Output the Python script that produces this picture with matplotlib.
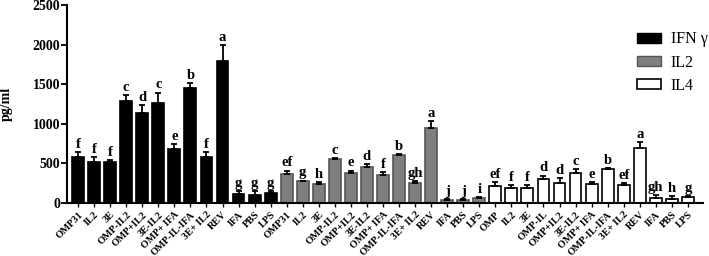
import matplotlib
matplotlib.use("Agg")
import matplotlib.pyplot as plt
import numpy as np
from matplotlib.patches import Patch

plt.rcParams['font.family'] = ['Liberation Serif', 'DejaVu Serif']

# treatment groups (same order in each cytokine block)
labels_ifn = ['OMP31', 'IL2', '3E', 'OMP-IL2', 'OMP+IL2', '3E-IL2', 'OMP+ IFA',
              'OMP-IL-IFA', '3E+ IL2', 'REV', 'IFA', 'PBS', 'LPS']
labels_il2 = ['OMP31', 'IL2', '3E', 'OMP-IL2', 'OMP+IL2', '3E-IL2', 'OMP+ IFA',
              'OMP-IL-IFA', '3E+ IL2', 'REV', 'IFA', 'PBS', 'LPS']
labels_il4 = ['OMP', 'IL2', '3E', 'OMP-IL', 'OMP+IL2', '3E-IL2', 'OMP+ IFA',
              'OMP-IL-IFA', '3E+ IL2', 'REV', 'IFA', 'PBS', 'LPS']

# mean values (pg/ml)
ifn = [587, 520, 512, 1283, 1137, 1262, 679, 1450, 575, 1796, 117, 96, 125]
il2 = [368, 272, 243, 556, 380, 451, 360, 606, 259, 953, 42, 38, 63]
il4 = [209, 192, 188, 297, 251, 380, 242, 431, 230, 694, 63, 54, 75]

# upper error (SD)
ifn_err = [53, 55, 33, 84, 105, 134, 63, 62, 71, 204, 29, 50, 21]
il2_err = [42, 12, 20, 13, 30, 42, 29, 13, 17, 84, 12, 16, 16]
il4_err = [54, 38, 34, 50, 67, 51, 21, 12, 25, 71, 33, 34, 9]

# significance letters
let_ifn = ['f', 'f', 'f', 'c', 'd', 'c', 'e', 'b', 'f', 'a', 'g', 'g', 'g']
let_il2 = ['ef', 'g', 'h', 'c', 'e', 'd', 'f', 'b', 'gh', 'a', 'j', 'j', 'i']
let_il4 = ['ef', 'f', 'f', 'd', 'd', 'c', 'e', 'b', 'ef', 'a', 'gh', 'h', 'g']

fig = plt.figure(figsize=(7.09, 2.56), dpi=100)
ax = fig.add_axes([0.0945, 0.207, 0.897, 0.773])

n = len(ifn)
w = 0.74
groups = [
    (ifn, ifn_err, let_ifn, 'black', 'black'),
    (il2, il2_err, let_il2, '#7f7f7f', '#555555'),
    (il4, il4_err, let_il4, 'white', 'black'),
]
for g, (vals, err, lets, fc, ec) in enumerate(groups):
    x = np.arange(n) + g * n
    ax.bar(x, vals, width=w, color=fc, edgecolor=ec, linewidth=1.2, zorder=2)
    ax.errorbar(x, vals, yerr=[np.zeros(n), err], fmt='none', ecolor='black',
                elinewidth=1.3, capsize=2.5, capthick=1.3, zorder=3)
    for xi, v, e, t in zip(x, vals, err, lets):
        ax.text(xi, v + e + 15, t, ha='center', va='bottom', fontsize=10.5,
                fontweight='bold')

ax.set_xlim(-0.69, 3 * n - 1 + 0.94)
ax.set_ylim(0, 2500)
ax.set_yticks([0, 500, 1000, 1500, 2000, 2500])
ax.set_xticks(np.arange(3 * n))
ax.set_xticklabels(labels_ifn + labels_il2 + labels_il4, rotation=45,
                   ha='right', rotation_mode='anchor', fontsize=7.3,
                   fontweight='bold')
for t in ax.get_yticklabels():
    t.set_fontweight('bold')
    t.set_fontsize(10)
ax.tick_params(axis='y', length=4, width=1.3, pad=1)
ax.tick_params(axis='x', length=3, width=1.0, pad=2)
ax.spines['top'].set_visible(False)
ax.spines['right'].set_visible(False)
ax.spines['left'].set_linewidth(1.5)
ax.spines['bottom'].set_linewidth(1.5)

ax.set_ylabel('pg/ml', fontsize=10, fontweight='bold', labelpad=14)

handles = [Patch(facecolor='black', edgecolor='black'),
           Patch(facecolor='#7f7f7f', edgecolor='#555555'),
           Patch(facecolor='white', edgecolor='black', linewidth=1.2)]
ax.legend(handles, ['IFN γ', 'IL2', 'IL4'], loc='upper right',
          bbox_to_anchor=(1.03, 0.94), frameon=False, fontsize=11.5,
          handlelength=1.5, handleheight=0.6, labelspacing=0.45,
          handletextpad=0.6)

fig.savefig('out.png', dpi=100)
